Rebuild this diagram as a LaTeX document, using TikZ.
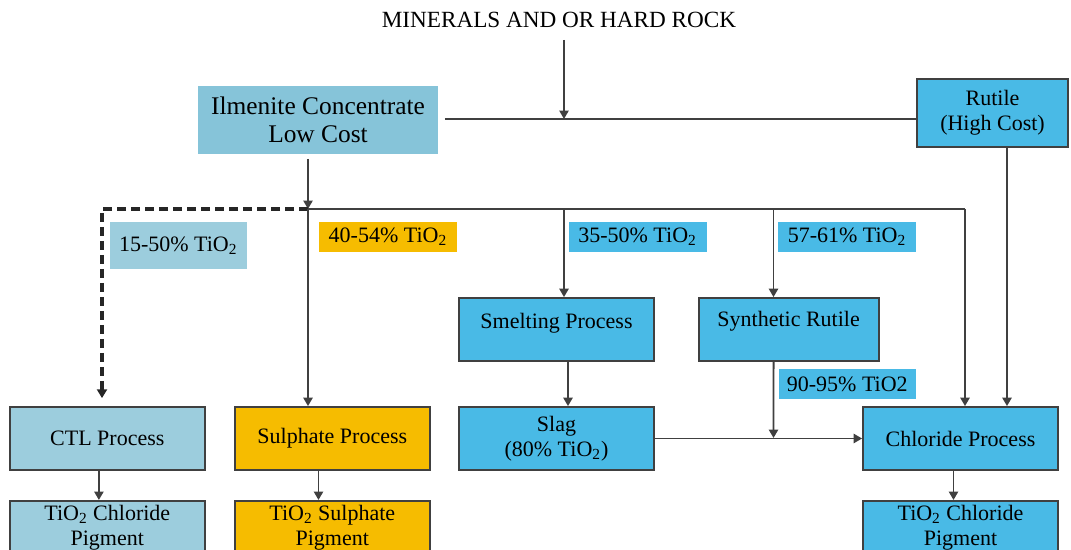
\documentclass[tikz,border=0pt]{standalone}
\usepackage{fontspec}
\setmainfont{Liberation Serif}
\usetikzlibrary{arrows.meta}

\definecolor{ilmblue}{HTML}{86C4D9}
\definecolor{ctlblue}{HTML}{9CCDDD}
\definecolor{procblue}{HTML}{49BAE6}
\definecolor{sulorange}{HTML}{F6BC00}
\definecolor{wire}{HTML}{404040}

\newcommand{\tio}{TiO\textsubscript{2}}

\tikzset{
    box/.style = {draw = black!75, line width = 0.9pt, align = center,
        minimum height = 31.5pt, inner sep = 2pt,
        font = \fontsize{11}{12.7}\selectfont},
    tag/.style = {align = center, minimum height = 15pt, inner sep = 1pt,
        font = \fontsize{11}{12.7}\selectfont},
    flow/.style = {draw = wire, line width = 0.9pt},
    arr/.style = {flow, -{Triangle[length = 4.2pt, width = 4.6pt]}},
    dashline/.style = {draw = black!85, line width = 1.7pt,
        dash pattern = on 4.5pt off 2.5pt,
        -{Triangle[length = 4.4pt, width = 5pt]}}
}

\begin{document}
\begin{tikzpicture}[x = 0.5pt, y = -0.5pt]
        \useasboundingbox (0,0) rectangle (1071,550);
        \clip (0,0) rectangle (1071,550);

        \node (title) [font = \fontsize{11.6}{13}\selectfont, inner sep = 0pt]
        at (559,20) {MINERALS AND OR HARD ROCK};

        \node (ilm) [box, draw = none, fill = ilmblue, minimum width = 120pt,
        minimum height = 34pt, font = \fontsize{12.7}{14}\selectfont]
        at (318,120) {Ilmenite Concentrate\\Low Cost};
        \node (rutile) [box, fill = procblue, minimum width = 75.5pt,
        minimum height = 34pt] at (992.5,113) {Rutile\\(High Cost)};

        \node (l15) [tag, fill = ctlblue, minimum width = 68.8pt,
        minimum height = 23.5pt] at (178.3,245.5) {15-50\% \tio};
        \node (l40) [tag, fill = sulorange, minimum width = 69pt] at (388,237) {40-54\% \tio};
        \node (l35) [tag, fill = procblue, minimum width = 69pt] at (637.6,237) {35-50\% \tio};
        \node (l57) [tag, fill = procblue, minimum width = 69pt] at (847,237) {57-61\% \tio};
        \node (l90) [tag, fill = procblue, minimum width = 68.7pt] at (847.3,384.3) {90-95\% TiO2};

        \node (sme) [box, fill = procblue, minimum width = 97.5pt, text depth = 9pt]
        at (556.5,329.5) {Smelting Process};
        \node (syn) [box, fill = procblue, minimum width = 90pt, text depth = 11pt]
        at (788.6,329.5) {Synthetic Rutile};

        \node (ctl) [box, fill = ctlblue, minimum width = 97.7pt] at (107.3,438.5) {CTL Process};
        \node (sul) [box, fill = sulorange, minimum width = 97.7pt] at (332.3,438.5) {Sulphate Process};
        \node (slag) [box, fill = procblue, minimum width = 97.5pt] at (556.5,438.5) {Slag\\(80\% \tio)};
        \node (chl) [box, fill = procblue, minimum width = 97.5pt] at (960.5,438.5) {Chloride Process};

        \node (ctlpig) [box, fill = ctlblue, minimum width = 97.7pt, minimum height = 26pt,
        anchor = north] at (107.3,500) {\tio\ Chloride\\Pigment};
        \node (sulpig) [box, fill = sulorange, minimum width = 97.7pt, minimum height = 26pt,
        anchor = north] at (332.3,500) {\tio\ Sulphate\\Pigment};
        \node (chlpig) [box, fill = procblue, minimum width = 97.5pt, minimum height = 26pt,
        anchor = north] at (960.5,500) {\tio\ Chloride\\Pigment};

        \coordinate (src) at (564,40);
        \coordinate (j1) at (564,119);
        \coordinate (b0) at (308,209);
        \coordinate (b5) at (102,209);
        \coordinate (b2) at (564,209);
        \coordinate (b3) at (773.5,209);
        \coordinate (b4) at (965,209);
        \coordinate (j2) at (773.5,438);

        \draw[flow, shorten <= 3pt] (ilm.east |- j1) -- (rutile.west |- j1);
        \draw[arr] (src) -- (j1);

        \draw[arr, shorten <= 2pt] (ilm.south -| b0) -- (b0);
        \draw[flow] (b0) -- (b4);
        \draw[dashline, shorten >= 4pt] (b0) -- (b5) -- (b5 |- ctl.north);
        \draw[arr] (b0) -- (b0 |- sul.north);
        \draw[arr] (b2) -- (b2 |- sme.north);
        \draw[arr] (b3) -- (b3 |- syn.north);
        \draw[arr] (b4) -- (b4 |- chl.north);
        \draw[arr] ([xshift = 7.25pt]rutile.south) -- ([xshift = 7.25pt]rutile.south |- chl.north);

        \draw[arr] ([xshift = 5.75pt]sme.south) -- ([xshift = 5.75pt]slag.north);
        \draw[arr] ([xshift = -7.5pt]syn.south) -- (j2);
        \draw[arr] (slag.east) -- (chl.west);

        \draw[arr] ([xshift = -4.2pt]ctl.south) -- ([xshift = -4.2pt]ctlpig.north);
        \draw[arr] ([xshift = -6.9pt]sul.south) -- ([xshift = -6.9pt]sulpig.north);
        \draw[arr] ([xshift = -3.5pt]chl.south) -- ([xshift = -3.5pt]chlpig.north);
    \end{tikzpicture}
\end{document}
